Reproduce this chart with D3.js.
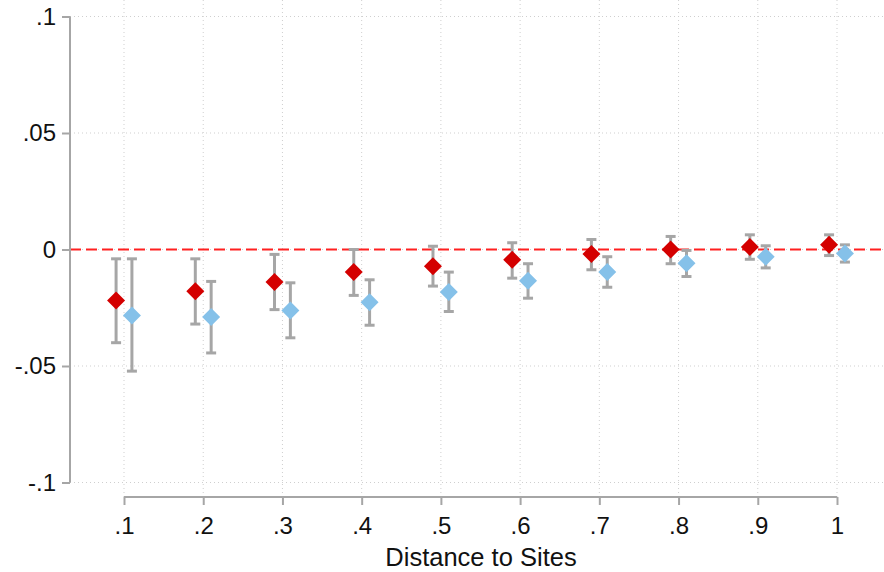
<!DOCTYPE html>
<html>
<head>
<meta charset="utf-8">
<script src="https://cdn.jsdelivr.net/npm/d3@7/dist/d3.min.js"></script>
<style>
  html, body { margin: 0; padding: 0; background: #fff; }
  svg { display: block; font-family: "Liberation Sans", Arial, sans-serif; }
</style>
</head>
<body>
<svg id="chart" width="884" height="572"></svg>
<script>
// Distance bins (x axis)
const distances = [0.1, 0.2, 0.3, 0.4, 0.5, 0.6, 0.7, 0.8, 0.9, 1.0];

// Series A (red): point estimates and 95% CI bounds
const redEst   = [-0.0219, -0.0179, -0.0140, -0.0097, -0.0072, -0.0044, -0.0019,  0.0000,  0.0011,  0.0020];
const redLow   = [-0.0400, -0.0320, -0.0258, -0.0197, -0.0157, -0.0123, -0.0087, -0.0061, -0.0042, -0.0026];
const redHigh  = [-0.0040, -0.0040, -0.0021,  0.0000,  0.0014,  0.0029,  0.0043,  0.0056,  0.0063,  0.0063];

// Series B (blue): point estimates and 95% CI bounds
const blueEst  = [-0.0283, -0.0290, -0.0262, -0.0226, -0.0182, -0.0134, -0.0097, -0.0059, -0.0031, -0.0017];
const blueLow  = [-0.0522, -0.0444, -0.0379, -0.0325, -0.0266, -0.0209, -0.0162, -0.0116, -0.0079, -0.0054];
const blueHigh = [-0.0040, -0.0137, -0.0143, -0.0130, -0.0097, -0.0061, -0.0031, -0.0004,  0.0016,  0.0020];

// Axis ticks
const yTicks = [-0.1, -0.05, 0, 0.05, 0.1];
const xTicks = distances;
const fmt = v => {
  if (v === 0) return "0";
  if (v === 1) return "1";
  const s = String(+v.toFixed(3));
  return s.replace(/^(-?)0\./, "$1.");
};

const svg = d3.select("#chart");
const W = 884, H = 572;

const x = d3.scaleLinear().domain([0.1, 1.0]).range([124, 837]);
const y = d3.scaleLinear().domain([-0.1, 0.1]).range([482.5, 16.5]);
const offset = 0.01; // horizontal dodge between the two series

const plotLeft = 70, plotRight = W, plotTop = 0, plotBottom = 497;

// Grid lines (dotted)
const grid = svg.append("g").attr("stroke", "#cfcfcf").attr("stroke-width", 1)
  .attr("stroke-dasharray", "1,3");
grid.selectAll("line.h").data(yTicks).join("line")
  .attr("x1", plotLeft).attr("x2", plotRight)
  .attr("y1", d => y(d)).attr("y2", d => y(d));
grid.selectAll("line.v").data(xTicks).join("line")
  .attr("x1", d => x(d)).attr("x2", d => x(d))
  .attr("y1", plotTop).attr("y2", plotBottom);

// Reference line at zero
svg.append("line")
  .attr("x1", plotLeft).attr("x2", plotRight)
  .attr("y1", y(0)).attr("y2", y(0))
  .attr("stroke", "#ff2020").attr("stroke-width", 2)
  .attr("stroke-dasharray", "11,5");

const tickFont = 24;

// Y axis
const yAxis = d3.axisLeft(y).tickValues(yTicks).tickFormat(fmt).tickSize(8).tickPadding(6);
const gy = svg.append("g").attr("transform", `translate(${plotLeft},0)`).call(yAxis);
gy.select(".domain").attr("stroke", "#a6a6a6").attr("stroke-width", 2)
  .attr("d", `M0,${y(0.1)}V${y(-0.1)}`);
gy.selectAll(".tick line").attr("stroke", "#a6a6a6").attr("stroke-width", 2);
gy.selectAll(".tick text").attr("font-size", tickFont).attr("fill", "#111")
  .attr("font-family", "'Liberation Sans', Arial, sans-serif");

// X axis
const xAxis = d3.axisBottom(x).tickValues(xTicks).tickFormat(fmt).tickSize(8).tickPadding(12);
const gx = svg.append("g").attr("transform", `translate(0,${plotBottom})`).call(xAxis);
gx.select(".domain").attr("stroke", "#a6a6a6").attr("stroke-width", 2)
  .attr("d", `M${x(0.1)},0H${x(1)}`);
gx.selectAll(".tick line").attr("stroke", "#a6a6a6").attr("stroke-width", 2);
gx.selectAll(".tick text").attr("font-size", tickFont).attr("fill", "#111")
  .attr("font-family", "'Liberation Sans', Arial, sans-serif");

// X axis title
svg.append("text")
  .attr("x", (x(0.1) + x(1)) / 2 + 0.5).attr("y", 566)
  .attr("text-anchor", "middle")
  .attr("font-size", 25.5).attr("fill", "#111")
  .text("Distance to Sites");

// Error bars and markers
const series = [
  { est: redEst, low: redLow, high: redHigh, dx: -offset, color: "#d40000" },
  { est: blueEst, low: blueLow, high: blueHigh, dx: offset, color: "#85c1e9" }
];
const capHalf = 5;

series.forEach(s => {
  const rows = distances.map((d, i) => ({ d, est: s.est[i], low: s.low[i], high: s.high[i] }));
  const g = svg.append("g");
  const bars = g.append("g").attr("stroke", "#a6a6a6").attr("stroke-width", 3);
  bars.selectAll("line.stem").data(rows).join("line")
    .attr("x1", r => x(r.d + s.dx)).attr("x2", r => x(r.d + s.dx))
    .attr("y1", r => y(r.low)).attr("y2", r => y(r.high));
  bars.selectAll("line.top").data(rows).join("line")
    .attr("x1", r => x(r.d + s.dx) - capHalf).attr("x2", r => x(r.d + s.dx) + capHalf)
    .attr("y1", r => y(r.high)).attr("y2", r => y(r.high));
  bars.selectAll("line.bot").data(rows).join("line")
    .attr("x1", r => x(r.d + s.dx) - capHalf).attr("x2", r => x(r.d + s.dx) + capHalf)
    .attr("y1", r => y(r.low)).attr("y2", r => y(r.low));
  const h = 9;
  g.selectAll("path.mk").data(rows).join("path")
    .attr("d", `M0,${-h}L${h},0L0,${h}L${-h},0Z`)
    .attr("transform", r => `translate(${x(r.d + s.dx)},${y(r.est)})`)
    .attr("fill", s.color);
});
</script>
</body>
</html>
